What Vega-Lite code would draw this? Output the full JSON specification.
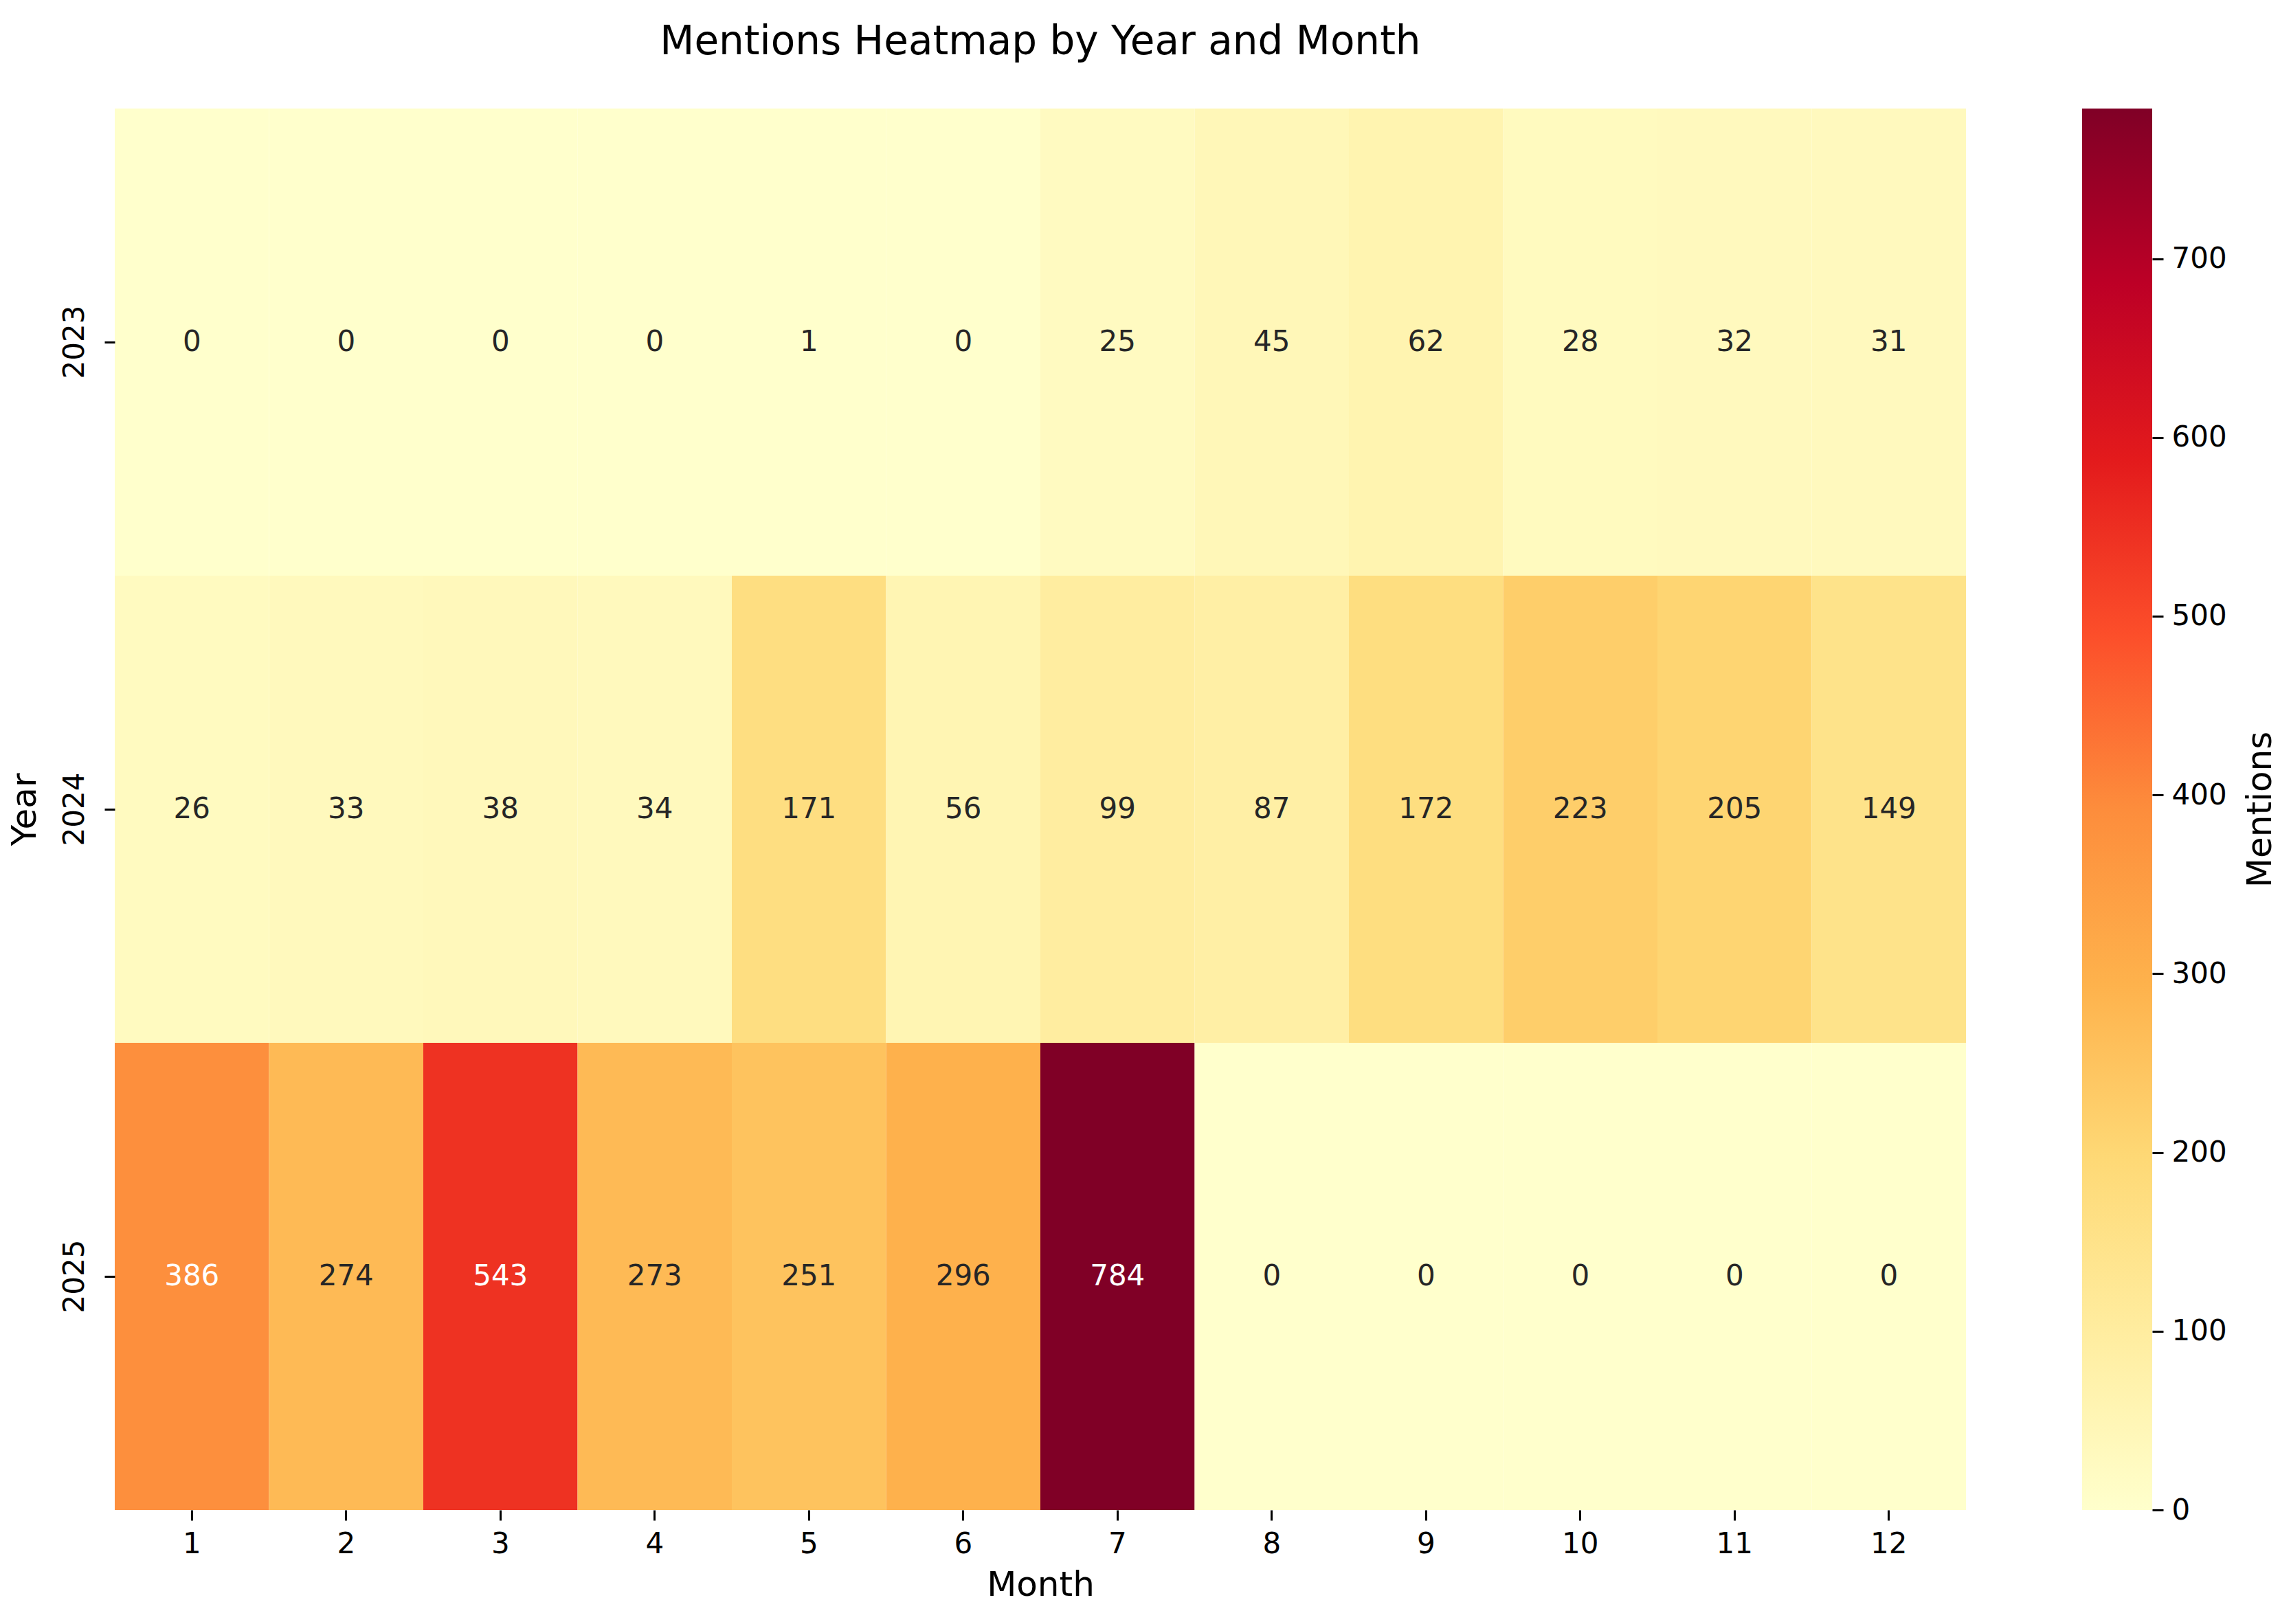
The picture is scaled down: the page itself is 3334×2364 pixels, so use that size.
{
  "$schema": "https://vega.github.io/schema/vega-lite/v6.json",
  "autosize": {"type": "pad"},
  "padding": {"left": 11, "top": 33, "right": 10, "bottom": 10},
  "background": "white",
  "config": {
    "font": "DejaVu Sans",
    "view": {"stroke": null},
    "axis": {
      "domain": false,
      "grid": false,
      "tickColor": "black",
      "tickWidth": 3,
      "tickSize": 15,
      "labelColor": "black",
      "labelFontSize": 42,
      "labelFont": "DejaVu Sans",
      "titleFont": "DejaVu Sans",
      "titleFontSize": 50,
      "titleFontWeight": "normal",
      "titleColor": "black"
    }
  },
  "datasets": {
    "mentions": [
      {"Year": 2023, "Month": 1, "Mentions": 0},
      {"Year": 2023, "Month": 2, "Mentions": 0},
      {"Year": 2023, "Month": 3, "Mentions": 0},
      {"Year": 2023, "Month": 4, "Mentions": 0},
      {"Year": 2023, "Month": 5, "Mentions": 1},
      {"Year": 2023, "Month": 6, "Mentions": 0},
      {"Year": 2023, "Month": 7, "Mentions": 25},
      {"Year": 2023, "Month": 8, "Mentions": 45},
      {"Year": 2023, "Month": 9, "Mentions": 62},
      {"Year": 2023, "Month": 10, "Mentions": 28},
      {"Year": 2023, "Month": 11, "Mentions": 32},
      {"Year": 2023, "Month": 12, "Mentions": 31},
      {"Year": 2024, "Month": 1, "Mentions": 26},
      {"Year": 2024, "Month": 2, "Mentions": 33},
      {"Year": 2024, "Month": 3, "Mentions": 38},
      {"Year": 2024, "Month": 4, "Mentions": 34},
      {"Year": 2024, "Month": 5, "Mentions": 171},
      {"Year": 2024, "Month": 6, "Mentions": 56},
      {"Year": 2024, "Month": 7, "Mentions": 99},
      {"Year": 2024, "Month": 8, "Mentions": 87},
      {"Year": 2024, "Month": 9, "Mentions": 172},
      {"Year": 2024, "Month": 10, "Mentions": 223},
      {"Year": 2024, "Month": 11, "Mentions": 205},
      {"Year": 2024, "Month": 12, "Mentions": 149},
      {"Year": 2025, "Month": 1, "Mentions": 386},
      {"Year": 2025, "Month": 2, "Mentions": 274},
      {"Year": 2025, "Month": 3, "Mentions": 543},
      {"Year": 2025, "Month": 4, "Mentions": 273},
      {"Year": 2025, "Month": 5, "Mentions": 251},
      {"Year": 2025, "Month": 6, "Mentions": 296},
      {"Year": 2025, "Month": 7, "Mentions": 784},
      {"Year": 2025, "Month": 8, "Mentions": 0},
      {"Year": 2025, "Month": 9, "Mentions": 0},
      {"Year": 2025, "Month": 10, "Mentions": 0},
      {"Year": 2025, "Month": 11, "Mentions": 0},
      {"Year": 2025, "Month": 12, "Mentions": 0}
    ],
    "colorbar": [{"lo": 0, "hi": 784}]
  },
  "spacing": 169,
  "bounds": "flush",
  "hconcat": [
    {
      "width": 2694,
      "height": 2040,
      "title": {
        "text": "Mentions Heatmap by Year and Month",
        "fontSize": 58,
        "font": "DejaVu Sans",
        "fontWeight": "normal",
        "color": "black",
        "anchor": "middle",
        "baseline": "alphabetic",
        "offset": 21
      },
      "data": {"name": "mentions"},
      "encoding": {
        "x": {
          "field": "Month",
          "type": "ordinal",
          "scale": {"paddingInner": 0, "paddingOuter": 0},
          "axis": {"labelAngle": 0, "labelPadding": 14, "titlePadding": 14, "title": "Month"}
        },
        "y": {
          "field": "Year",
          "type": "ordinal",
          "scale": {"paddingInner": 0, "paddingOuter": 0},
          "axis": {
            "labelAngle": 270,
            "labelAlign": "center",
            "labelBaseline": "bottom",
            "labelPadding": 22,
            "titlePadding": 26,
            "title": "Year"
          }
        }
      },
      "layer": [
        {
          "mark": {"type": "rect"},
          "encoding": {
            "color": {
              "field": "Mentions",
              "type": "quantitative",
              "legend": null,
              "scale": {
                "domain": [0, 98, 196, 294, 392, 490, 588, 686, 784],
                "range": ["#ffffcc", "#ffeda0", "#fed976", "#feb24c", "#fd8d3c", "#fc4e2a", "#e31a1c", "#bd0026", "#800026"],
                "interpolate": "rgb",
                "clamp": true
              }
            }
          }
        },
        {
          "mark": {"type": "text", "fontSize": 42, "font": "DejaVu Sans", "align": "center", "baseline": "middle"},
          "encoding": {
            "text": {"field": "Mentions", "type": "quantitative", "format": "d"},
            "color": {
              "condition": {"test": "datum.Mentions > 300", "value": "white"},
              "value": "#262626"
            }
          }
        }
      ]
    },
    {
      "width": 102,
      "height": 2040,
      "data": {"name": "colorbar"},
      "mark": {
        "type": "rect",
        "color": {
          "gradient": "linear",
          "x1": 0, "y1": 1, "x2": 0, "y2": 0,
          "stops": [
            {"offset": 0, "color": "#ffffcc"},
            {"offset": 0.125, "color": "#ffeda0"},
            {"offset": 0.25, "color": "#fed976"},
            {"offset": 0.375, "color": "#feb24c"},
            {"offset": 0.5, "color": "#fd8d3c"},
            {"offset": 0.625, "color": "#fc4e2a"},
            {"offset": 0.75, "color": "#e31a1c"},
            {"offset": 0.875, "color": "#bd0026"},
            {"offset": 1, "color": "#800026"}
          ]
        }
      },
      "encoding": {
        "y": {
          "field": "lo",
          "type": "quantitative",
          "scale": {"domain": [0, 784], "nice": false, "zero": false},
          "axis": {
            "orient": "right",
            "values": [0, 100, 200, 300, 400, 500, 600, 700],
            "tickSize": 16,
            "labelPadding": 12,
            "title": "Mentions",
            "titleAngle": 270,
            "titleBaseline": "top",
            "titlePadding": 24
          }
        },
        "y2": {"field": "hi"}
      }
    }
  ]
}
